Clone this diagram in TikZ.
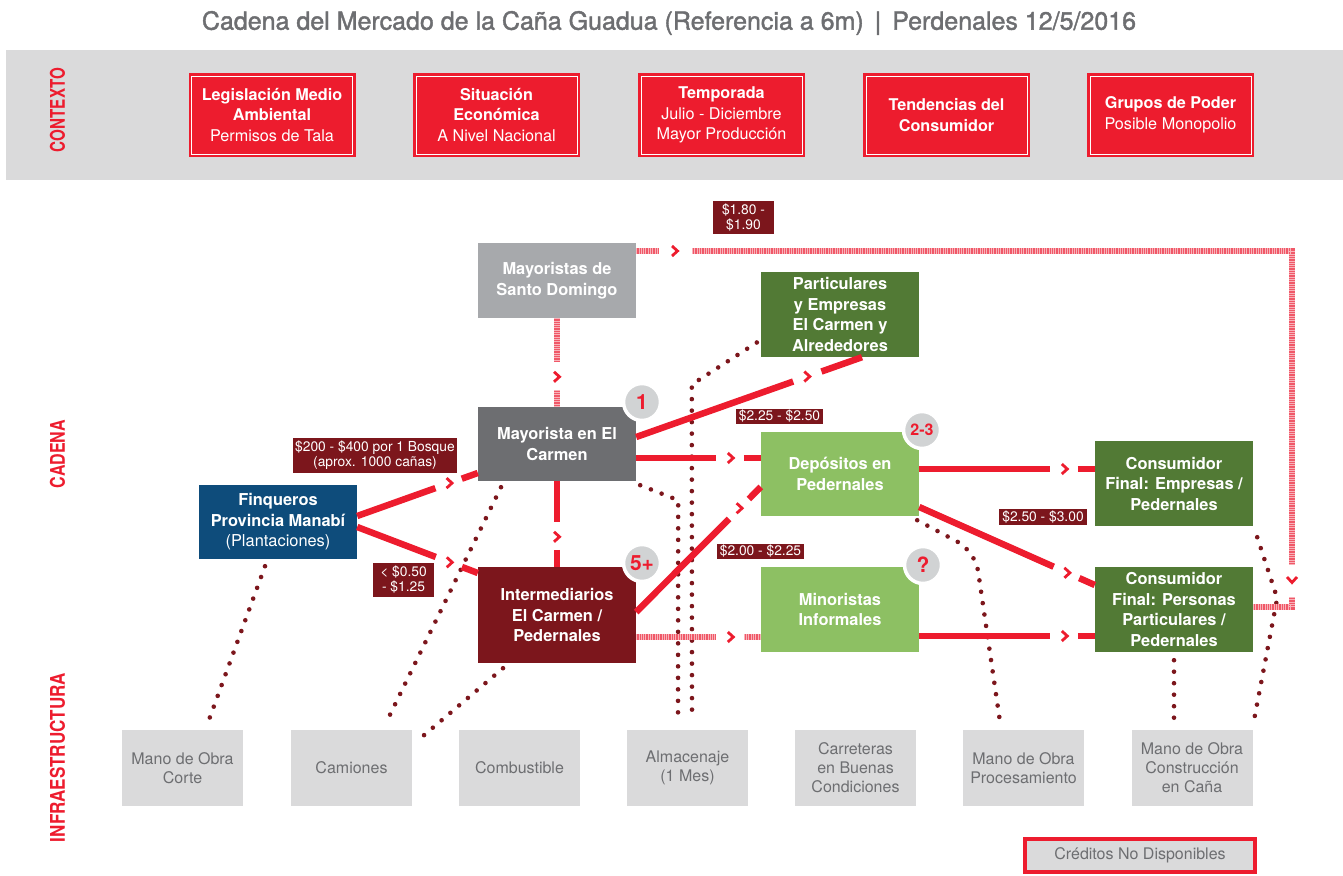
\documentclass[tikz,border=0pt]{standalone}
\usepackage{graphicx}
\usepackage{fontspec}
\setmainfont{TeX Gyre Heros}
\newfontfamily\titlefont[FakeBold=1.6]{TeX Gyre Heros}
\usetikzlibrary{positioning, decorations.markings}

\definecolor{cred}{RGB}{237,28,46}
\definecolor{cpink}{RGB}{240,88,104}
\definecolor{cdark}{RGB}{124,22,28}
\definecolor{cband}{RGB}{218,218,219}
\definecolor{ctext}{RGB}{109,110,113}
\definecolor{cblue}{RGB}{14,76,123}
\definecolor{cgreen}{RGB}{82,122,53}
\definecolor{clight}{RGB}{141,192,99}
\definecolor{cgrey}{RGB}{167,169,172}
\definecolor{cmid}{RGB}{109,110,113}
\definecolor{cbadge}{RGB}{209,211,212}

\begin{document}
\begin{tikzpicture}[x=1pt, y=-1pt,
  ctx/.style={fill=cred, text=white, minimum width=167pt, minimum height=84pt, inner sep=0pt, align=center,
    font=\fontsize{16.2}{20.5}\selectfont,
    path picture={\draw[white, line width=0.8pt] ([shift={(3pt,3pt)}]path picture bounding box.south west) rectangle ([shift={(-3pt,-3pt)}]path picture bounding box.north east);}},
  chain/.style={text=white, minimum width=158pt, inner sep=0pt, align=center, font=\bfseries\fontsize{16.4}{20.5}\selectfont},
  infra/.style={fill=cband, text=ctext, minimum width=121pt, minimum height=76pt, inner sep=0pt, align=center, font=\fontsize{16}{19}\selectfont},
  price/.style={fill=cdark, text=white, inner sep=0pt, align=center, font=\fontsize{13.8}{15}\selectfont},
  badge/.style={circle, fill=cbadge, draw=white, line width=3.5pt, minimum size=37pt, inner sep=0pt, text=cred, font=\bfseries\fontsize{21}{21}\selectfont},
  side/.style={rotate=90, text=cred, inner sep=0pt, font=\bfseries},
  dots/.style={draw=cdark, line width=4.6pt, line cap=round, dash pattern=on 0pt off 11.5pt},
  seg/.style={cred, line width=6.5pt},
  hseg/.style={cpink, line width=6.5pt, postaction={draw=white, opacity=0.55, line width=6.5pt, dash pattern=on 0.7pt off 1.6pt}},
  chev/.pic={\draw[cred, solid, line width=2.8pt, shorten >=0pt] (-3pt,5pt) -- (2.5pt,0pt) -- (-3pt,-5pt);},
  gapped/.style n args={4}{#1, shorten >=#2,
    postaction={decorate, decoration={markings,
      mark=at position -#3 with {\pic {chev};},
      mark=at position -#4 with {\draw[#1, shorten >=0pt] (0pt,0pt) -- (#4,0pt);}}}},
  flow/.style={gapped={seg}{45pt}{30pt}{17pt}},
  hflow/.style={gapped={hseg}{45pt}{30pt}{17pt}}]

  \useasboundingbox (0,0) rectangle (1343,875);
  \fill[cband] (6,50) rectangle (1343,180);
  \node[text=ctext, font=\titlefont\fontsize{25}{25}\selectfont] (title) at (669,23)
    {Cadena del Mercado de la Caña Guadua (Referencia a 6m)\hspace{11pt}|\hspace{11pt}Perdenales 12/5/2016};

  \node[side] (lctx) at (57.5,110) {\resizebox{84pt}{15pt}{CONTEXTO}};
  \node[side] (lcad) at (57.5,454) {\resizebox{68pt}{15pt}{CADENA}};
  \node[side] (linf) at (57.5,757.5) {\resizebox{169pt}{15pt}{INFRAESTRUCTURA}};

  \node[ctx] (leg) at (272,115) {\textbf{Legislación Medio}\\\textbf{Ambiental}\\Permisos de Tala};
  \node[ctx] (eco) at (496.5,115) {\textbf{Situación}\\\textbf{Económica}\\A Nivel Nacional};
  \node[ctx] (tem) at (721.5,115) {\textbf{Temporada}\\Julio - Diciembre\\Mayor Producción};
  \node[ctx] (ten) at (946.5,115) {\textbf{Tendencias del}\\\textbf{Consumidor}};
  \node[ctx] (gru) at (1170.5,115) {\textbf{Grupos de Poder}\\Posible Monopolio};

  \node[chain, fill=cgrey, minimum height=75pt] (sd) at (557,280.5) {Mayoristas de\\Santo Domingo};
  \node[chain, fill=cgreen, minimum height=85pt] (part) at (840,314.5) {Particulares\\y Empresas\\El Carmen y\\Alrededores};
  \node[chain, fill=cmid, minimum height=74pt] (may) at (557,444) {Mayorista en El\\Carmen};
  \node[chain, fill=cblue, minimum height=74pt] (fin) at (278,522) {Finqueros\\Provincia Manabí\\\mdseries(Plantaciones)};
  \node[chain, fill=cdark, minimum height=96pt] (int) at (557,615) {Intermediarios\\El Carmen /\\Pedernales};
  \node[chain, fill=clight, minimum height=84pt] (dep) at (840,474) {Depósitos en\\Pedernales};
  \node[chain, fill=clight, minimum height=85pt] (min) at (840,609.5) {Minoristas\\Informales};
  \node[chain, fill=cgreen, minimum height=85pt] (emp) at (1174,483.5) {Consumidor\\Final: Empresas /\\Pedernales};
  \node[chain, fill=cgreen, minimum height=85pt] (per) at (1174,609.5) {Consumidor\\Final: Personas\\Particulares /\\Pedernales};

  \node[infra] (corte) at (182.5,768) {Mano de Obra\\Corte};
  \node[infra] (cam) at (351.5,768) {Camiones};
  \node[infra] (comb) at (519.5,768) {Combustible};
  \node[infra] (alm) at (687.5,768) {Almacenaje\\(1 Mes)};
  \node[infra] (carr) at (855.5,768) {Carreteras\\en Buenas\\Condiciones};
  \node[infra] (proc) at (1023.5,768) {Mano de Obra\\Procesamiento};
  \node[infra] (cons) at (1192,768) {Mano de Obra\\Construcción\\en Caña};
  \node[infra, draw=cred, line width=3.5pt, minimum width=230pt, minimum height=33pt, font=\fontsize{16}{19}\selectfont] (cre) at (1140,855.5) {Créditos No Disponibles};

  % dotted links to infrastructure
  \draw[dots] ([shift={(-13pt,-7pt)}]fin.south) -- ([shift={(25pt,6pt)}]corte.north);
  \draw[dots] ([shift={(-56pt,-6pt)}]may.south) -- ([shift={(37pt,12pt)}]cam.north);
  \draw[dots] ([shift={(-54pt,-5pt)}]int.south) -- ([shift={(4pt,-12pt)}]cam.north east);
  \draw[dots] ([shift={(4pt,-4pt)}]may.south east) -- ++(38,15) -- ([shift={(-9.5pt,10pt)}]alm.north);
  \draw[dots] ([shift={(-4pt,-28pt)}]part.west) -- ++(-65,42) -- ([shift={(4.5pt,10pt)}]alm.north);
  \draw[dots, rounded corners=20pt] ([shift={(-2pt,-4pt)}]dep.south east) -- ++(58,31) -- ([shift={(-23.5pt,8pt)}]proc.north);
  \draw[dots] ([yshift=-8pt]per.south) -- ([shift={(-18pt,7pt)}]cons.north);
  \draw[dots] ([shift={(4pt,-11pt)}]emp.south east) -- ++(20,61) -- ([shift={(1pt,8pt)}]cons.north east);

  % market flows
  \draw[flow] ([yshift=6pt]fin.east) -- ([yshift=-29pt]may.west);
  \draw[flow] ([yshift=-5pt]fin.east) -- ([yshift=42pt]int.west);
  \draw[flow] (may.south) -- (int.north);
  \draw[gapped={seg}{73pt}{58pt}{43pt}] ([yshift=7pt]may.east) -- ([xshift=22pt]part.south);
  \draw[flow] ([yshift=-14pt]may.east) -- ([yshift=16pt]dep.west);
  \draw[flow] ([yshift=3pt]int.east) -- ([yshift=-13pt]dep.west);
  \draw[flow] ([yshift=5pt]dep.east) -- ([yshift=14.5pt]emp.west);
  \draw[flow] ([yshift=-33pt]dep.east) -- ([yshift=24.5pt]per.west);
  \draw[flow] ([yshift=-26.5pt]min.east) -- ([yshift=-26.5pt]per.west);

  \draw[hflow] (sd.south) -- (may.north);
  \draw[hflow] ([yshift=-22pt]int.east) -- ([yshift=-27.5pt]min.west);
  \coordinate (ne) at (1292,251);
  \coordinate (se) at (1292,607);
  \draw[hseg] (sd.east |- ne) -- ++(23,0);
  \pic at (675,251) {chev};
  \draw[hseg] (692,251) -- (ne) -- (1292,565);
  \pic[rotate=-90] at (1292,580) {chev};
  \draw[hseg] (1292,597) -- (se) -- (per.east |- se);

  \node[price, minimum width=61pt, minimum height=33pt] (p1) at (743.5,217.5) {\$1.80 -\\\$1.90};
  \node[price, minimum width=164pt, minimum height=35pt] (p2) at (375,455.5) {\$200 - \$400 por 1 Bosque\\(aprox. 1000 cañas)};
  \node[price, minimum width=61pt, minimum height=34pt] (p3) at (403.5,580) {< \$0.50\\- \$1.25};
  \node[price, minimum width=87pt, minimum height=15pt] (p4) at (779.5,416) {\$2.25 - \$2.50};
  \node[price, minimum width=87pt, minimum height=15pt] (p5) at (760.5,551) {\$2.00 - \$2.25};
  \node[price, minimum width=88pt, minimum height=16pt] (p6) at (1043,517) {\$2.50 - \$3.00};

  \node[badge] (b1) at (642,402) {1};
  \node[badge] (b5) at (642,563) {5+};
  \node[badge, font=\bfseries\fontsize{16}{16}\selectfont] (b23) at (922,430) {2-3};
  \node[badge] (bq) at (923,565) {?};
\end{tikzpicture}
\end{document}
